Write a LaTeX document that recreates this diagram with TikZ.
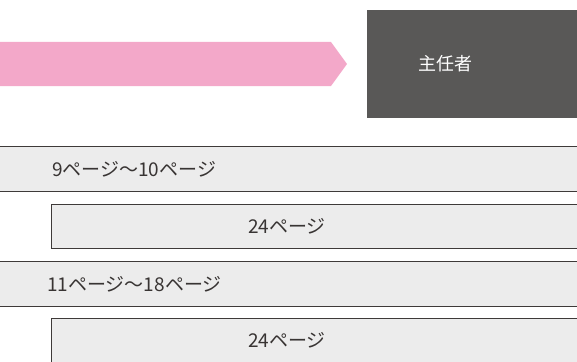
\documentclass[tikz,border=0pt]{standalone}
\usepackage{fontspec}
\usepackage{tikz}
\usetikzlibrary{positioning}
\newfontfamily\jpfont{Noto Sans CJK JP}
\definecolor{flowpink}{HTML}{F3A8C9}
\definecolor{chiefgray}{HTML}{595857}
\definecolor{barfill}{HTML}{ECECEC}
\definecolor{barline}{HTML}{3E3A39}
\tikzset{
	x=1pt, y=-1pt, % work in pixels, downwards
	every node/.style={font=\jpfont}, % japanese text everywhere
}

\begin{document}
\begin{tikzpicture}[
	headbox/.style={rectangle, fill=chiefgray, draw=none, anchor=north west, minimum width=220pt, minimum height=108.5pt},
	headtext/.style={text=white, font=\jpfont\fontsize{18pt}{20pt}\selectfont, inner sep=0pt},
	rowbar/.style={rectangle, draw=barline, fill=barfill, line width=0.8pt, anchor=north west, minimum width=595pt, minimum height=45pt},
	subbar/.style={rectangle, draw=barline, fill=barfill, line width=0.8pt, anchor=north west, minimum width=545pt, minimum height=44pt},
	pagetext/.style={text=barline!90!black, font=\jpfont\fontsize{19pt}{21pt}\selectfont, inner sep=0pt},
	]
	\useasboundingbox (0,0) rectangle (577,361);
	\clip (0,0) rectangle (577,361);
	%Arrow
	\fill[flowpink] (-5,42) -- (331,42) -- (347,64) -- (331,86) -- (-5,86) -- cycle;
	%Nodes
	\node[headbox] (chief) at (367,9.5) {};
	\node[headtext] (chieftext) at ([xshift=78pt]chief.west) {主任者};

	\node[rowbar] (first) at (-5,146) {};
	\node[pagetext, anchor=west] (firsttext) [right=57pt of first.west] {9ページ～10ページ};

	\node[subbar] (firstsub) at (51,204) {};
	\node[pagetext] (firstsubtext) at ([xshift=236pt]firstsub.west) {24ページ};

	\node[rowbar] (second) at (-5,261) {};
	\node[pagetext, anchor=west] (secondtext) [right=52pt of second.west] {11ページ～18ページ};

	\node[subbar] (secondsub) at (51,318) {};
	\node[pagetext] (secondsubtext) at ([xshift=236pt]secondsub.west) {24ページ};
\end{tikzpicture}
\end{document}
